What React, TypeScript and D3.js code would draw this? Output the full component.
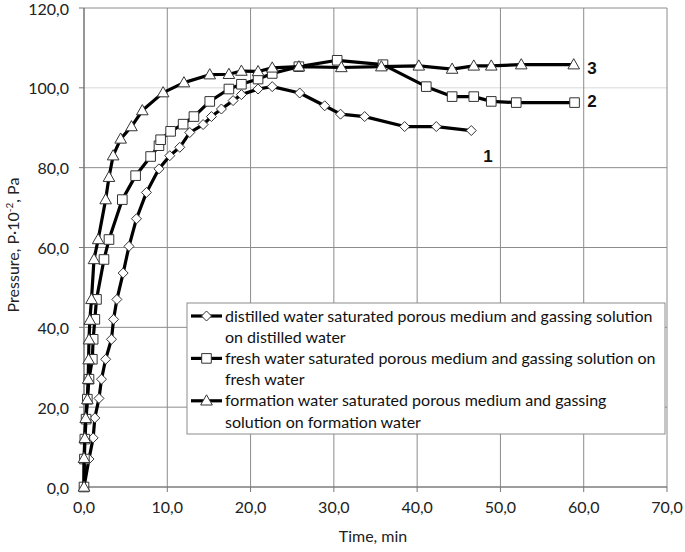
import React from 'react';
import * as d3 from 'd3';

const xTicks = [0, 10, 20, 30, 40, 50, 60, 70];
const yTicks = [0, 20, 40, 60, 80, 100, 120];

const distilledT = [0, 0.6, 1.1, 1.3, 1.8, 2.1, 2.6, 3.3, 3.55, 3.95, 4.7, 5.4, 6.3, 7.5, 9.0, 10.3, 11.5, 12.7, 14.3, 15.3, 16.5, 17.9, 18.9, 20.9, 22.6, 25.9, 28.9, 30.8, 33.7, 38.5, 42.3, 46.5];
const distilledP = [0, 7, 12.3, 17.3, 22.2, 27, 32, 37, 42, 47, 53.6, 60.3, 67.2, 73.8, 79.7, 83, 85.1, 88.8, 90.8, 92.8, 94.7, 96.8, 98.3, 99.7, 100.3, 98.7, 95.5, 93.4, 92.8, 90.3, 90.3, 89.3];

const freshT = [0, 0.05, 0.1, 0.25, 0.4, 0.6, 1.0, 1.1, 1.3, 1.5, 2.4, 3.0, 4.6, 6.2, 8.0, 9.0, 9.2, 10.4, 11.9, 13.2, 15.1, 17.4, 18.9, 20.9, 22.6, 25.8, 30.4, 35.9, 41.1, 44.2, 46.8, 48.9, 51.9, 58.9];
const freshP = [0, 7, 12, 17, 22, 27, 32, 37, 42, 47, 57, 62, 72, 78, 82.8, 85.5, 87, 89.1, 90.9, 92.8, 96.6, 99.7, 100.9, 102.2, 103.6, 105.3, 106.9, 105.8, 100.3, 97.8, 97.8, 96.6, 96.3, 96.3];

const formationT = [0, 0.0, 0.1, 0.2, 0.4, 0.5, 0.55, 0.6, 0.7, 0.9, 1.2, 1.7, 2.6, 3.0, 3.5, 4.4, 5.7, 7.0, 9.5, 12.0, 15.1, 17.4, 18.9, 20.9, 22.6, 25.8, 30.9, 35.7, 40.2, 44.2, 46.8, 48.9, 52.5, 58.8];
const formationP = [0, 7.2, 12.2, 17.2, 21.9, 27, 31.9, 36.9, 41.8, 47, 57, 62, 72, 77.6, 83, 87.2, 90.3, 94.3, 98.8, 101.3, 103.3, 103.4, 104.2, 104.1, 105, 105.3, 105.1, 105.3, 105.5, 104.7, 105.5, 105.5, 105.8, 105.8];

const legendLines = [
  ['distilled water saturated porous medium and gassing solution', 'on distilled water'],
  ['fresh water saturated porous medium and gassing solution on', 'fresh water'],
  ['formation water saturated porous medium and gassing', 'solution on formation water'],
];
const curveLabels = ['1', '2', '3'];

type Shape = 'diamond' | 'square' | 'triangle';

const series: { t: number[]; p: number[]; shape: Shape }[] = [
  { t: distilledT, p: distilledP, shape: 'diamond' },
  { t: freshT, p: freshP, shape: 'square' },
  { t: formationT, p: formationP, shape: 'triangle' },
];

const FONT = 'Lato, "Open Sans", sans-serif';

function markerPath(shape: Shape, cx: number, cy: number): string {
  if (shape === 'diamond') {
    const r = 5;
    return `M${cx},${cy - r}L${cx + r},${cy}L${cx},${cy + r}L${cx - r},${cy}Z`;
  }
  if (shape === 'square') {
    const r = 4.8;
    return `M${cx - r},${cy - r}H${cx + r}V${cy + r}H${cx - r}Z`;
  }
  const w = 5.8;
  return `M${cx},${cy - 6}L${cx + w},${cy + 4.2}L${cx - w},${cy + 4.2}Z`;
}

export default function App() {
  const W = 685;
  const H = 552;
  const x = d3.scaleLinear().domain([0, 70]).range([84, 667]);
  const y = d3.scaleLinear().domain([0, 120]).range([487, 8]);
  const line = d3.line<[number, number]>().x((d) => x(d[0])).y((d) => y(d[1]));

  const labelPos = [
    { t: 48.5, p: 82.8 },
    { t: 61.0, p: 96.6 },
    { t: 61.0, p: 105.0 },
  ];

  const legendX = 187;
  const legendY = 303;
  const legendW = 478;
  const legendH = 131;
  const rowH = 21.2;

  return (
    <svg width={W} height={H} style={{ position: 'absolute', left: 0, top: 0, background: '#fff' }} fontFamily={FONT}>
      <rect x={0} y={0} width={W} height={H} fill="#fff" />
      {/* grid */}
      {yTicks.map((v) => (
        <line key={'gy' + v} x1={x(0)} x2={x(70)} y1={y(v)} y2={y(v)} stroke={v === 100 ? '#d8d8d8' : '#8c8c8c'} strokeWidth={1} />
      ))}
      {xTicks.map((v) => (
        <line key={'gx' + v} x1={x(v)} x2={x(v)} y1={y(0)} y2={y(120)} stroke="#8c8c8c" strokeWidth={1} />
      ))}
      {/* axes */}
      <line x1={x(0)} x2={x(0)} y1={y(0)} y2={y(120)} stroke="#777" strokeWidth={1.2} />
      <line x1={x(0)} x2={x(70)} y1={y(0)} y2={y(0)} stroke="#777" strokeWidth={1.2} />
      {yTicks.map((v) => (
        <g key={'ty' + v}>
          <line x1={x(0) - 5} x2={x(0)} y1={y(v)} y2={y(v)} stroke="#777" />
          <text x={69} y={y(v) + 1} dy="0.35em" textAnchor="end" fontSize={16} fill="#222">
            {d3.format('.1f')(v).replace('.', ',')}
          </text>
        </g>
      ))}
      {xTicks.map((v) => (
        <g key={'tx' + v}>
          <line x1={x(v)} x2={x(v)} y1={y(0)} y2={y(0) + 5} stroke="#777" />
          <text x={x(v)} y={507} dy="0.35em" textAnchor="middle" fontSize={16} fill="#222">
            {d3.format('.1f')(v).replace('.', ',')}
          </text>
        </g>
      ))}
      <text x={373} y={536} dy="0.35em" textAnchor="middle" fontSize={16} fill="#222">Time, min</text>
      <text transform="translate(13,245) rotate(-90)" textAnchor="middle" dy="0.35em" fontSize={16} fill="#222">
        Pressure, P·10<tspan dy="-6" fontSize={10}>-2</tspan><tspan dy="6">, Pa</tspan>
      </text>

      {/* series */}
      {series.map((s, i) => {
        const pts: [number, number][] = s.t.map((t, j) => [t, s.p[j]]);
        return (
          <g key={'s' + i}>
            <path d={line(pts) || ''} fill="none" stroke="#000" strokeWidth={3.2} strokeLinejoin="round" />
            {pts.map((d, j) => (
              <path key={j} d={markerPath(s.shape, x(d[0]), y(d[1]))} fill="#fff" stroke="#333" strokeWidth={1} />
            ))}
          </g>
        );
      })}

      {curveLabels.map((l, i) => (
        <text key={'cl' + i} x={x(labelPos[i].t)} y={y(labelPos[i].p)} dy="0.35em" textAnchor="middle" fontSize={17} fontWeight="bold" fill="#111" fontFamily="Liberation Sans, Arial, sans-serif">
          {l}
        </text>
      ))}

      {/* legend */}
      <rect x={legendX} y={legendY} width={legendW} height={legendH} fill="#fff" stroke="#8c8c8c" strokeWidth={1} />
      {legendLines.map((lines, i) => {
        const cy = legendY + 13 + i * 2 * rowH;
        return (
          <g key={'lg' + i}>
            <line x1={191} x2={222} y1={cy} y2={cy} stroke="#000" strokeWidth={3.2} />
            <path d={markerPath(series[i].shape, 206.5, cy)} fill="#fff" stroke="#333" strokeWidth={1} />
            {lines.map((txt, k) => (
              <text key={k} x={225} y={cy + k * rowH} dy="0.35em" fontSize={16} fill="#111">
                {txt}
              </text>
            ))}
          </g>
        );
      })}
    </svg>
  );
}
